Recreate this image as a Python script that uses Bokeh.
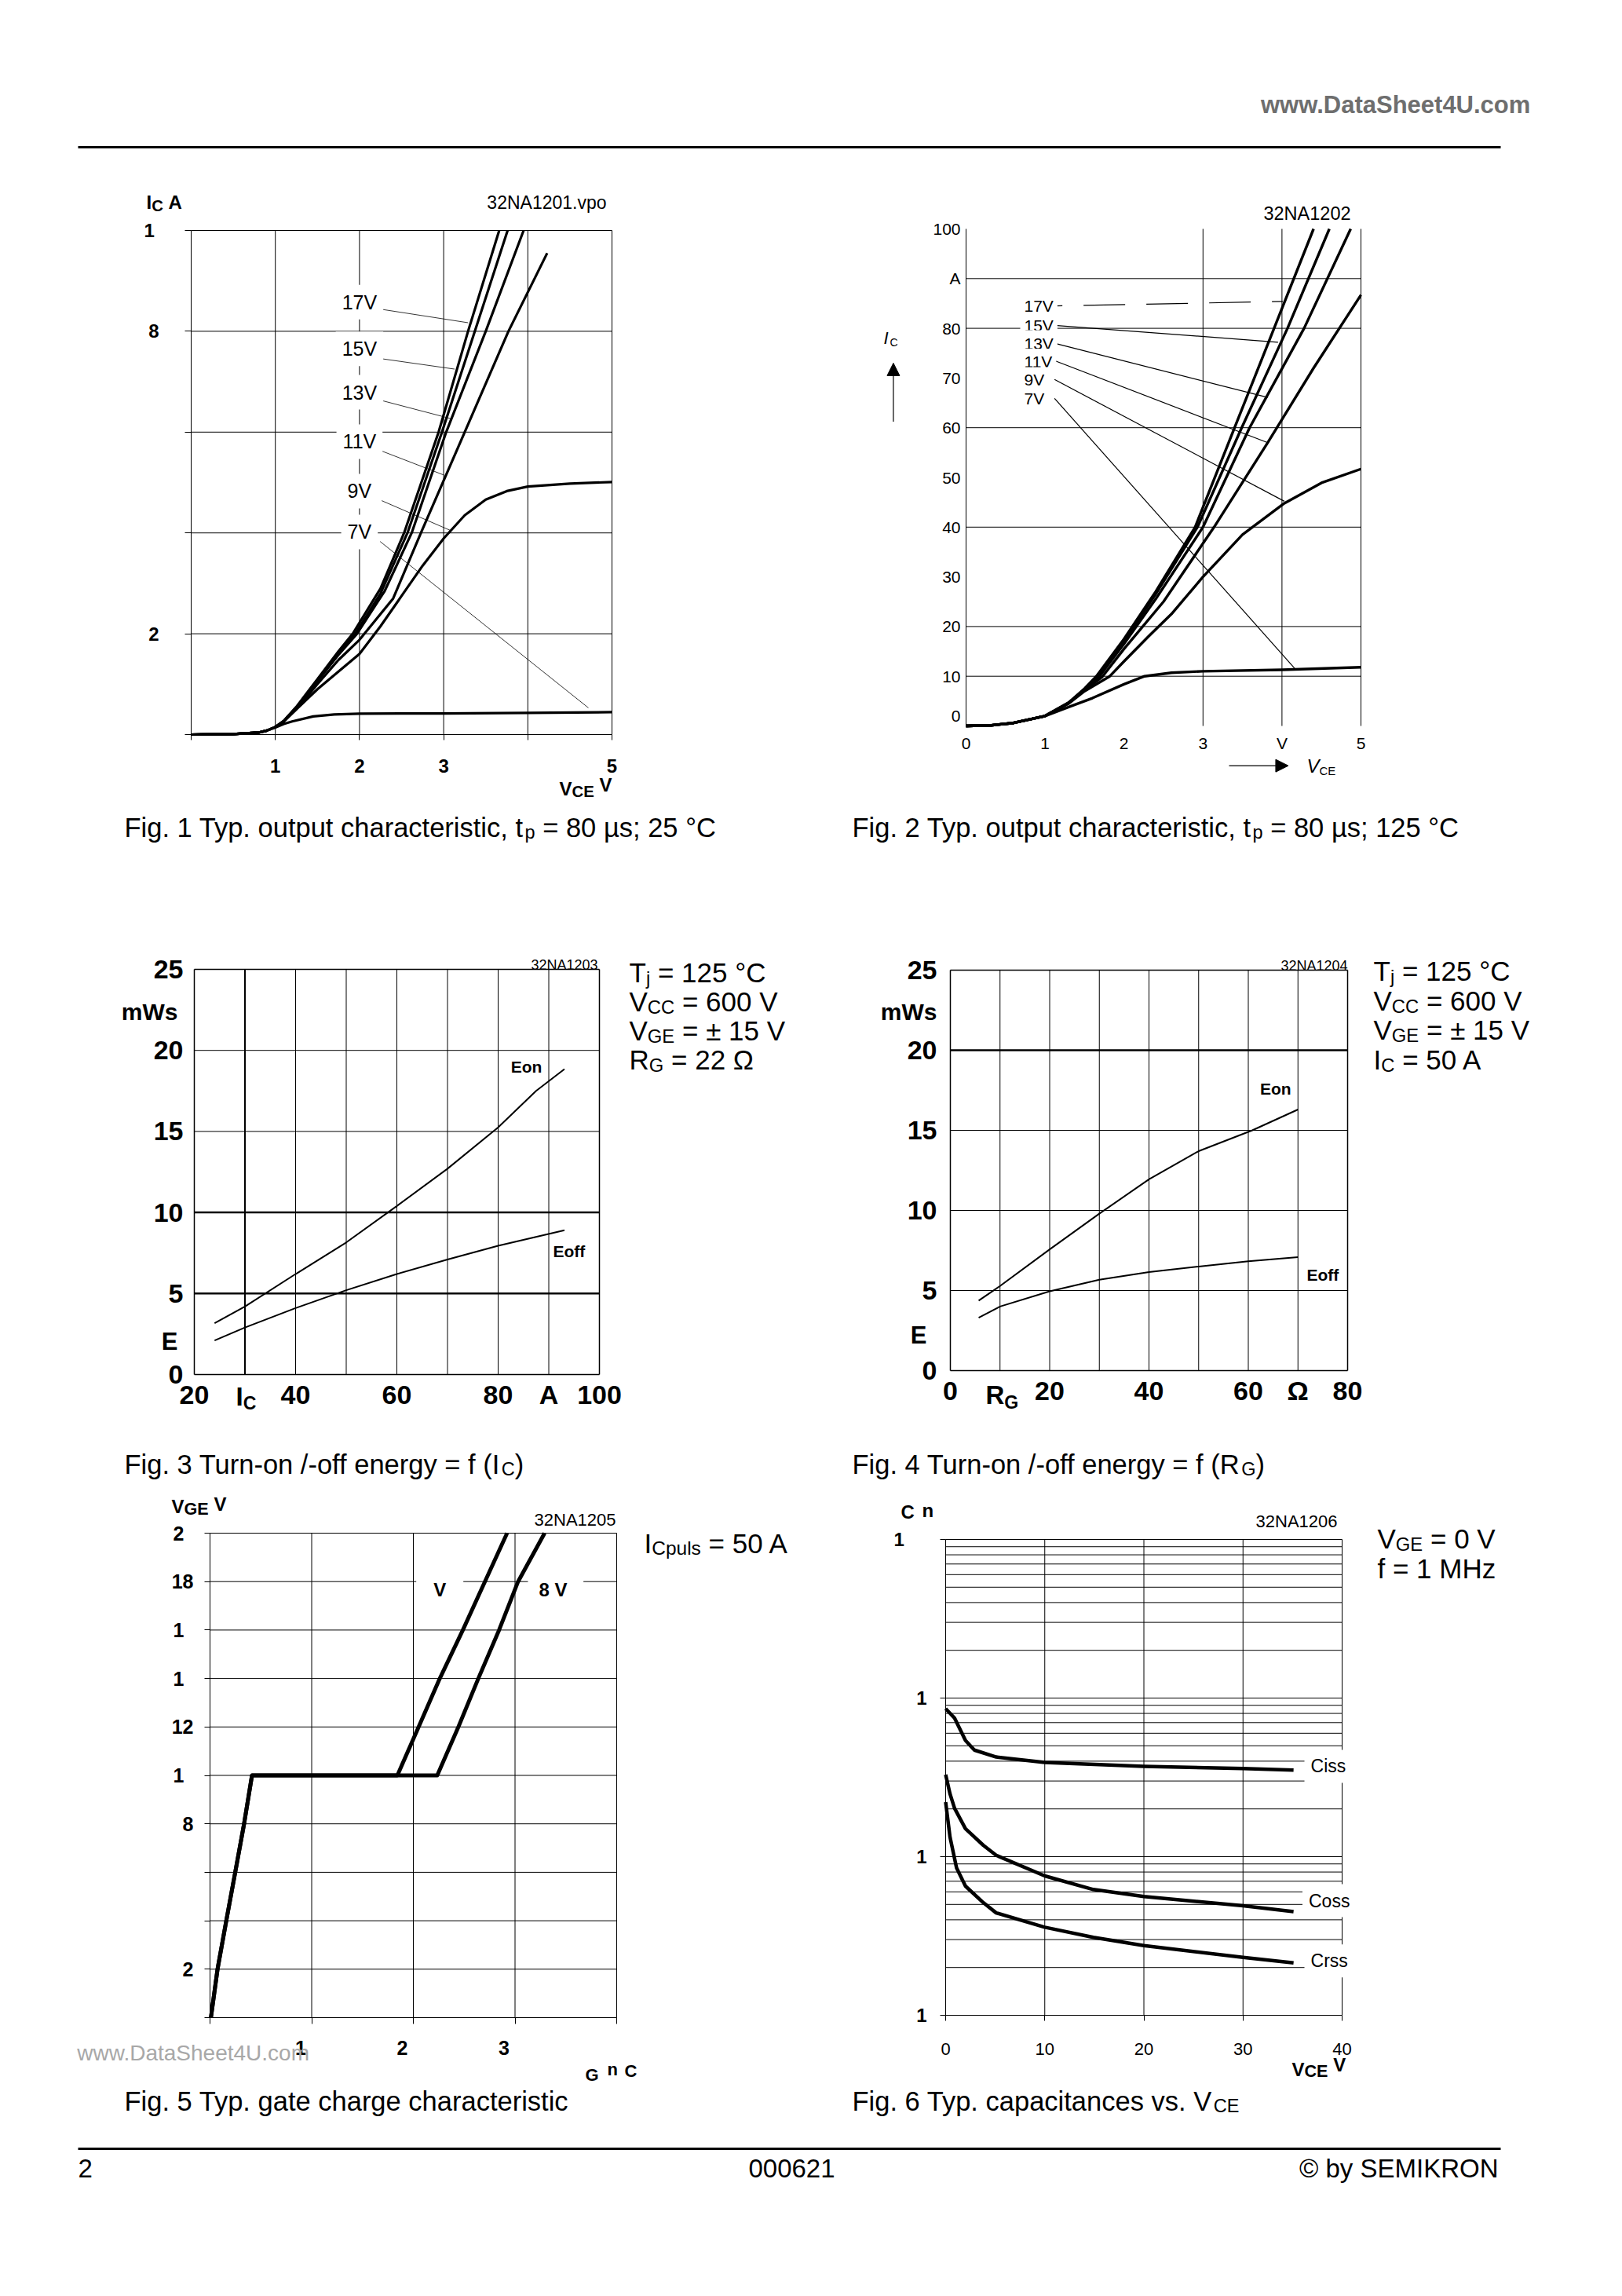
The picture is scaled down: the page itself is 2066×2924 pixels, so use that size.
import math
from bokeh.plotting import figure
from bokeh.models import (Range1d, FixedTicker, Label, BoxAnnotation, Arrow,
                          NormalHead, CustomJSTickFormatter)
from bokeh.layouts import column, row
from bokeh.embed import file_html
from bokeh.resources import INLINE

FONT = "Liberation Sans"

# ======================= DATA =======================
# Fig. 1 : output characteristic 25 °C  (V_CE [V] -> I_C [A])
f1_x_ticks = [0, 1, 2, 3, 4, 5]
f1_x_labels = ["", "1", "2", "3", "", "5"]
f1_y_ticks = [0, 20, 40, 60, 80, 100]
f1_y_labels = ["", "2", "", "", "8", ""]
f1_17v_x = [0, 0.5, 0.8, 0.9, 1.0, 1.1, 1.25, 1.4, 1.5, 1.75, 1.92, 2.25, 2.53, 2.94, 3.29, 3.66]
f1_17v_y = [0, 0.1, 0.4, 0.8, 1.5, 2.7, 5.5, 8.8, 11, 16.5, 20, 29, 40, 60, 80, 100]
f1_15v_x = [0, 0.5, 0.8, 0.9, 1.0, 1.1, 1.25, 1.4, 1.5, 1.75, 1.95, 2.25, 2.57, 2.98, 3.37, 3.76]
f1_15v_y = [0, 0.1, 0.4, 0.8, 1.5, 2.7, 5.4, 8.6, 10.8, 16.2, 20, 28, 40, 60, 80, 100]
f1_13v_x = [0, 0.5, 0.8, 0.9, 1.0, 1.1, 1.25, 1.4, 1.5, 1.75, 1.97, 2.3, 2.62, 3.03, 3.5, 3.95]
f1_13v_y = [0, 0.1, 0.4, 0.8, 1.5, 2.6, 5.3, 8.4, 10.6, 15.8, 20, 28.5, 40, 60, 80, 100]
f1_11v_x = [0, 0.5, 0.8, 0.9, 1.0, 1.1, 1.25, 1.4, 1.5, 1.75, 2.0, 2.4, 2.73, 3.25, 3.77, 4.23]
f1_11v_y = [0, 0.1, 0.4, 0.8, 1.5, 2.6, 5.1, 8.0, 10, 14.8, 18.8, 27, 40, 60, 80, 95.5]
f1_9v_x = [0, 0.5, 0.8, 0.9, 1.0, 1.1, 1.25, 1.5, 1.75, 2.0, 2.25, 2.5, 2.75, 3.0, 3.25, 3.5, 3.75, 4.0, 4.5, 5.0]
f1_9v_y = [0, 0.1, 0.4, 0.8, 1.5, 2.6, 5, 9, 12.5, 16, 21.5, 27.5, 33.5, 38.9, 43.5, 46.6, 48.3, 49.2, 49.8, 50.1]
f1_7v_x = [0, 0.5, 0.8, 0.9, 1.0, 1.1, 1.2, 1.45, 1.7, 2.0, 3.0, 4.0, 5.0]
f1_7v_y = [0, 0.1, 0.4, 0.8, 1.4, 2.1, 2.6, 3.6, 4.0, 4.15, 4.2, 4.3, 4.45]
f1_tags = ["17V", "15V", "13V", "11V", "9V", "7V"]
f1_tag_x = [2.0, 2.0, 2.0, 2.0, 2.0, 2.0]
f1_tag_y = [85.8, 76.5, 67.9, 58.1, 48.3, 40.2]
f1_lead_x0 = [2.245, 2.245, 2.256, 2.256, 2.264, 2.245]
f1_lead_y0 = [84.4, 74.6, 66.3, 56.3, 46.4, 38.3]
f1_lead_x1 = [3.29, 3.13, 3.08, 3.0, 3.08, 4.72]
f1_lead_y1 = [81.7, 72.5, 62.7, 51.5, 40.5, 5.3]

# Fig. 2 : output characteristic 125 °C
f2_x_ticks = [0, 1, 2, 3, 4, 5]
f2_x_labels = ["0", "1", "2", "3", "V", "5"]
f2_y_ticks = [0, 10, 20, 30, 40, 50, 60, 70, 80, 90, 100]
f2_y_labels = ["", "10", "20", "30", "40", "50", "60", "70", "80", "A", "100"]
f2_x_grid = [3, 4, 5]
f2_y_grid = [10, 20, 40, 60, 80, 90]
f2_17v_x = [0, 0.3, 0.6, 1.0, 1.3, 1.5, 1.65, 2.0, 2.4, 2.9, 3.4, 3.9, 4.4]
f2_17v_y = [0, 0.1, 0.6, 2.0, 4.7, 7.5, 10, 17.5, 27, 40, 60, 80, 100]
f2_15v_x = [0, 0.3, 0.6, 1.0, 1.3, 1.5, 1.66, 2.0, 2.4, 2.93, 3.49, 4.07, 4.6]
f2_15v_y = [0, 0.1, 0.6, 2.0, 4.7, 7.4, 9.8, 17, 26.5, 40, 60, 80, 100]
f2_13v_x = [0, 0.3, 0.6, 1.0, 1.3, 1.5, 1.68, 2.0, 2.4, 3.0, 3.59, 4.28, 4.87]
f2_13v_y = [0, 0.1, 0.6, 2.0, 4.6, 7.3, 9.8, 16.5, 25.5, 40, 60, 80, 100]
f2_11v_x = [0, 0.3, 0.6, 1.0, 1.3, 1.5, 1.72, 2.0, 2.5, 3.14, 3.82, 4.4, 5.0]
f2_11v_y = [0, 0.1, 0.6, 2.0, 4.6, 7.2, 9.8, 15.5, 25, 40, 57, 72, 86.7]
f2_9v_x = [0, 0.3, 0.6, 1.0, 1.3, 1.5, 1.82, 2.0, 2.31, 2.6, 3.0, 3.5, 4.03, 4.5, 5.0]
f2_9v_y = [0, 0.1, 0.6, 2.0, 4.5, 7.0, 10, 13, 18, 22.5, 30, 38.5, 44.8, 48.9, 51.7]
f2_7v_x = [0, 0.3, 0.6, 1.0, 1.3, 1.6, 2.0, 2.26, 2.6, 3.0, 4.0, 5.0]
f2_7v_y = [0, 0.1, 0.6, 2.0, 3.8, 5.6, 8.4, 10, 10.7, 11, 11.3, 11.8]
f2_tags = ["17V", "15V", "13V", "11V", "9V", "7V"]
f2_tag_x = [0.686, 0.686, 0.686, 0.686, 0.686, 0.686]
f2_tag_y = [84.5, 80.6, 77.0, 73.3, 69.6, 65.9]
f2_lead_x0 = [1.12, 1.12, 1.12, 1.12, 1.12, 1.12]
f2_lead_y0 = [84.5, 80.6, 77.0, 73.5, 69.7, 65.9]
f2_lead_x1 = [4.01, 3.95, 3.82, 3.82, 4.03, 4.16]
f2_lead_y1 = [85.4, 77.2, 66.1, 57.0, 45.2, 11.6]

# Fig. 3 : E = f(I_C)
f3_x_ticks = [20, 30, 40, 50, 60, 70, 80, 90, 100]
f3_x_labels = ["20", "", "40", "", "60", "", "80", "A", "100"]
f3_y_ticks = [0, 5, 10, 15, 20, 25]
f3_y_labels = ["0", "5", "10", "15", "20", "25"]
f3_y_grid = [5, 10, 15, 20, 25]
f3_eon_x = [24, 30, 40, 50, 60, 70, 80, 87.5, 93.1]
f3_eon_y = [3.17, 4.2, 6.2, 8.15, 10.4, 12.7, 15.25, 17.5, 18.85]
f3_eoff_x = [24, 30, 40, 50, 60, 70, 80, 93.1]
f3_eoff_y = [2.1, 2.9, 4.1, 5.2, 6.2, 7.1, 7.95, 8.9]

# Fig. 4 : E = f(R_G)
f4_x_ticks = [0, 10, 20, 30, 40, 50, 60, 70, 80]
f4_x_labels = ["0", "", "20", "", "40", "", "60", "Ω", "80"]
f4_y_ticks = [0, 5, 10, 15, 20, 25]
f4_y_labels = ["0", "5", "10", "15", "20", "25"]
f4_y_grid = [5, 10, 15, 20, 25]
f4_eon_x = [5.7, 10, 20, 30, 40, 50, 60.8, 70]
f4_eon_y = [4.37, 5.28, 7.57, 9.8, 11.94, 13.7, 15.0, 16.3]
f4_eoff_x = [5.7, 10, 20, 30, 40, 50, 60, 70]
f4_eoff_y = [3.3, 4.0, 4.95, 5.67, 6.15, 6.5, 6.83, 7.08]

# Fig. 5 : gate charge (Q_G [nC] -> V_GE [V])
f5_x_ticks = [0, 100, 200, 300, 400]
f5_x_labels = ["", "1", "2", "3", ""]
f5_y_ticks = [0, 2, 4, 6, 8, 10, 12, 14, 16, 18, 20]
f5_y_labels = ["", "2", "", "", "8", "", "12", "", "", "18", ""]
f5_y_cut_ticks = [10, 14, 16, 20]          # labels printed with lost digits
f5_y_cut_labels = ["1", "1", "1", "2"]
f5_a_q = [0.9, 7.4, 16, 24.8, 33.5, 41.3, 184.3, 205.2, 226, 248.7, 270.4, 292.2]
f5_a_v = [0, 2, 4, 6, 8, 10, 10, 12, 14, 16, 18, 20]
f5_b_q = [0.9, 7.4, 16, 24.8, 33.5, 41.3, 223.5, 244.3, 263.9, 284.3, 303, 329.1]
f5_b_v = [0, 2, 4, 6, 8, 10, 10, 12, 14, 16, 18, 20]

# Fig. 6 : capacitances (V_CE [V] -> C [nF])
f6_x_ticks = [0, 10, 20, 30, 40]
f6_y_ticks = [0.1, 1, 10, 100]
f6_ciss_x = [0, 0.9, 2, 2.9, 5.1, 10, 20, 30, 35.1]
f6_ciss_y = [8.58, 7.48, 5.4, 4.7, 4.25, 3.93, 3.71, 3.6, 3.51]
f6_coss_x = [0, 0.44, 0.9, 2, 3.8, 5.1, 10, 14.9, 20, 30, 35.1]
f6_coss_y = [3.29, 2.49, 2.02, 1.5, 1.18, 1.02, 0.756, 0.621, 0.561, 0.49, 0.45]
f6_crss_x = [0, 0.44, 1.1, 2, 3.8, 5.1, 10, 14.9, 20, 30, 35.1]
f6_crss_y = [2.21, 1.33, 0.85, 0.652, 0.513, 0.442, 0.359, 0.31, 0.275, 0.232, 0.214]

# ======================= TEXT HELPERS =======================
W_REG = {' ': 278, '!': 278, '(': 333, ')': 333, ',': 278, '-': 333, '.': 278, '/': 278,
         ':': 278, ';': 278, '=': 584, '+': 584, '°': 400, 'µ': 556, '±': 584, 'Ω': 768, '©': 737}
W_REG.update({d: 556 for d in "0123456789"})
W_REG.update(dict(zip("ABCDEFGHIJKLMNOPQRSTUVWXYZ",
                      [667, 667, 722, 722, 667, 611, 778, 722, 278, 500, 667, 556, 833, 722, 778, 667,
                       778, 722, 667, 611, 722, 667, 944, 667, 667, 611])))
W_REG.update(dict(zip("abcdefghijklmnopqrstuvwxyz",
                      [556, 556, 500, 556, 556, 278, 556, 556, 222, 222, 500, 222, 833, 556, 556, 556,
                       556, 333, 500, 278, 556, 500, 722, 500, 500, 500])))
W_BOLD = {' ': 278, '.': 278, '=': 584, '°': 400, 'Ω': 768, '(': 333, ')': 333}
W_BOLD.update({d: 556 for d in "0123456789"})
W_BOLD.update(dict(zip("ABCDEFGHIJKLMNOPQRSTUVWXYZ",
                       [722, 722, 722, 722, 667, 611, 778, 722, 278, 556, 722, 611, 833, 722, 778, 667,
                        778, 722, 667, 611, 722, 667, 944, 667, 667, 611])))
W_BOLD.update(dict(zip("abcdefghijklmnopqrstuvwxyz",
                       [556, 611, 556, 611, 556, 333, 611, 611, 278, 278, 556, 278, 889, 611, 611, 611,
                        611, 389, 556, 333, 611, 556, 778, 556, 556, 500])))


def put(p, F, px, py, parts, size, bold=False, italic=False, align="left", color="black"):
    """Place (possibly sub-scripted) text; px/py are page pixels, py = baseline."""
    tbl = W_BOLD if bold else W_REG

    def tw(s, sz):
        return sum(tbl.get(c, 556) for c in s) * sz / 1000.0

    ws = [tw(t, size * sc) for (t, sc, dy) in parts]
    total = sum(ws)
    x = px - {"left": 0, "center": total / 2, "right": total}[align]
    style = "bold italic" if (bold and italic) else "bold" if bold else "italic" if italic else "normal"
    for (t, sc, dy), w in zip(parts, ws):
        s = t.lstrip(" ")
        off = tw(t[:len(t) - len(s)], size * sc)
        s = s.rstrip(" ")
        if s:
            p.add_layout(Label(x=x + off - F[0], y=F[1] - (py + dy), x_units="screen", y_units="screen",
                               text=s, text_font=FONT, text_font_size=f"{size * sc:.1f}px",
                               text_font_style=style, text_color=color, text_align="left",
                               text_baseline="alphabetic"))
        x += w


def tag(p, x, y, text, size, bold=False, align="center", pad=6, baseline="middle", x_offset=0, y_offset=0,
        bg=True):
    p.add_layout(Label(x=x, y=y, text=text, text_font=FONT, text_font_size=f"{size}px",
                       text_font_style="bold" if bold else "normal", text_align=align,
                       text_color="black", text_baseline=baseline,
                       background_fill_color="white" if bg else None,
                       background_fill_alpha=1.0, padding=pad, x_offset=x_offset, y_offset=y_offset))


def make_chart(cell, frame, xlim, ylim, ylog=False):
    """Figure whose canvas is the whole cell; the plot box sits at `frame` (page px)."""
    cx, cy, cw, ch = cell
    L, T, R, B = frame
    x0, x1 = xlim
    y0, y1 = ylim
    sx = (R - L) / (x1 - x0)
    xr = Range1d(x0 - (L - cx) / sx, x1 + (cx + cw - R) / sx)
    if ylog:
        l0, l1 = math.log10(y0), math.log10(y1)
        sy = (B - T) / (l1 - l0)
        yr = Range1d(10 ** (l0 - (cy + ch - B) / sy), 10 ** (l1 + (T - cy) / sy))
    else:
        sy = (B - T) / (y1 - y0)
        yr = Range1d(y0 - (cy + ch - B) / sy, y1 + (T - cy) / sy)
    p = figure(width=cw, height=ch, x_range=xr, y_range=yr, y_axis_type="log" if ylog else "linear",
               output_backend="svg", toolbar_location=None,
               min_border_left=0, min_border_right=0, min_border_top=0, min_border_bottom=0)
    p.background_fill_color = "white"
    p.border_fill_color = "white"
    p.outline_line_color = None
    p.grid.visible = False
    xa, ya = p.xaxis[0], p.yaxis[0]
    xa.fixed_location = y0
    xa.bounds = (x0, x1)
    ya.fixed_location = x0
    ya.bounds = (y0, y1)
    for ax in (xa, ya):
        ax.axis_line_color = "black"
        ax.major_tick_line_color = "black"
        ax.major_tick_in = 0
        ax.minor_tick_in = 0
        ax.minor_tick_out = 0
        ax.major_label_text_font = FONT
        ax.major_label_text_color = "black"
    return p, (cx, cy + ch)


def axis_style(ax, ticks, labels, size, bold, tick_out, standoff):
    ax.ticker = FixedTicker(ticks=ticks)
    ax.major_label_overrides = dict(zip(ticks, labels))
    ax.major_label_text_font_size = f"{size}px"
    ax.major_label_text_font_style = "bold" if bold else "normal"
    ax.major_tick_out = tick_out
    ax.major_label_standoff = standoff


def vgrid(p, xs, ylim, width=1.0):
    n = len(xs)
    p.segment(x0=xs, y0=[ylim[0]] * n, x1=xs, y1=[ylim[1]] * n, line_color="black", line_width=width)


def hgrid(p, ys, xlim, width=1.0):
    n = len(ys)
    p.segment(x0=[xlim[0]] * n, y0=ys, x1=[xlim[1]] * n, y1=ys, line_color="black", line_width=width)


# ======================= HEADER =======================
hdr = figure(width=2058, height=230, x_range=Range1d(0, 2058), y_range=Range1d(230, 0),
             output_backend="svg", toolbar_location=None,
             min_border_left=0, min_border_right=0, min_border_top=0, min_border_bottom=0)
hdr.axis.visible = False
hdr.grid.visible = False
hdr.outline_line_color = None
hdr.add_layout(BoxAnnotation(left=99, right=1911, top=185.5, bottom=188.5, fill_color="black",
                             fill_alpha=1, line_color=None))
put(hdr, (0, 230), 1950, 133, [("www.DataSheet4U.com", 1, 0)], 31, bold=True, align="right", color="#6e6e6e")

# ======================= FIG 1 =======================
X1, Y1 = (0, 5), (0, 100)
p1, F1 = make_chart((0, 230, 1040, 890), (243, 293, 779, 935), X1, Y1)
axis_style(p1.xaxis[0], f1_x_ticks, f1_x_labels, 24, True, 7, 24)
axis_style(p1.yaxis[0], f1_y_ticks, f1_y_labels, 24, True, 8, 33)
vgrid(p1, f1_x_ticks[1:], Y1)
hgrid(p1, f1_y_ticks[1:], X1)
for xs, ys in [(f1_17v_x, f1_17v_y), (f1_15v_x, f1_15v_y), (f1_13v_x, f1_13v_y),
               (f1_11v_x, f1_11v_y), (f1_9v_x, f1_9v_y), (f1_7v_x, f1_7v_y)]:
    p1.line(xs, ys, line_color="black", line_width=3.2, line_join="round")
p1.segment(f1_lead_x0, f1_lead_y0, f1_lead_x1, f1_lead_y1, line_color="black", line_width=0.8)
for t, x, y in zip(f1_tags, f1_tag_x, f1_tag_y):
    tag(p1, x, y, t, 25, pad=8)
tag(p1, 0, 100, "1", 24, bold=True, align="left", pad=0, x_offset=-60, bg=False)
put(p1, F1, 186, 257, [("I", 1, 0), ("C", 0.85, 4), (" A", 1, 0)], 24, bold=True)
put(p1, F1, 772, 257, [("32NA1201.vpo", 1, 0)], 23, align="right")
put(p1, F1, 712, 1004, [("V", 1, 0), ("CE", 0.85, 3), (" V", 1, -5)], 24, bold=True)
put(p1, F1, 158, 1053, [("Fig. 1 Typ. output characteristic, t", 1, 0), ("p", 0.68, 6),
                        (" = 80 µs; 25 °C", 1, 0)], 34.5)

# ======================= FIG 2 =======================
X2, Y2 = (0, 5), (0, 100)
p2, F2 = make_chart((1040, 230, 1018, 890), (1230, 291, 1733, 924), X2, Y2)
axis_style(p2.xaxis[0], f2_x_ticks, f2_x_labels, 21, False, 0, 10)
axis_style(p2.yaxis[0], f2_y_ticks, f2_y_labels, 21, False, 0, 7)
p2.xaxis.axis_line_color = None
vgrid(p2, f2_x_grid, Y2)
hgrid(p2, f2_y_grid, X2)
for xs, ys in [(f2_17v_x, f2_17v_y), (f2_15v_x, f2_15v_y), (f2_13v_x, f2_13v_y),
               (f2_11v_x, f2_11v_y), (f2_9v_x, f2_9v_y), (f2_7v_x, f2_7v_y)]:
    p2.line(xs, ys, line_color="black", line_width=3.4, line_join="round")
p2.segment(f2_lead_x0[1:], f2_lead_y0[1:], f2_lead_x1[1:], f2_lead_y1[1:], line_color="black", line_width=1.2)
p2.segment(f2_lead_x0[:1], f2_lead_y0[:1], f2_lead_x1[:1], f2_lead_y1[:1], line_color="black",
           line_width=1.2, line_dash="53 27", line_dash_offset=43)
for t, x, y in zip(f2_tags, f2_tag_x, f2_tag_y):
    tag(p2, x, y, t, 21, align="left", pad=5)
tag(p2, 0, 0, "0", 21, align="right", pad=0, x_offset=-7, y_offset=13, bg=False)
put(p2, F2, 1720, 271, [("32NA1202", 1, 0)], 23.5, align="right")
put(p2, F2, 1125, 430, [("I", 1, 0)], 22, italic=True)
put(p2, F2, 1133, 435, [("C", 1, 0)], 14)
put(p2, F2, 1664, 975, [("V", 1, 0)], 24, italic=True)
put(p2, F2, 1680, 981, [("CE", 1, 0)], 15)
p2.add_layout(Arrow(end=NormalHead(size=16, fill_color="black", line_color="black"),
                    x_start=-0.92, y_start=61.2, x_end=-0.92, y_end=73.0,
                    line_color="black", line_width=1.2))
p2.add_layout(Arrow(end=NormalHead(size=16, fill_color="black", line_color="black"),
                    x_start=3.33, y_start=-8.0, x_end=4.08, y_end=-8.0,
                    line_color="black", line_width=1.2))
put(p2, F2, 1085, 1053, [("Fig. 2 Typ. output characteristic, t", 1, 0), ("p", 0.68, 6),
                         (" = 80 µs; 125 °C", 1, 0)], 34.5)

# ======================= FIG 3 =======================
X3, Y3 = (20, 100), (0, 25)
p3, F3 = make_chart((0, 1120, 1040, 780), (247, 1234, 763, 1750), X3, Y3)
axis_style(p3.xaxis[0], f3_x_ticks, f3_x_labels, 34, True, 0, 6)
axis_style(p3.yaxis[0], f3_y_ticks, f3_y_labels, 34, True, 0, 14)
p3.xaxis.axis_line_width = 1.5
p3.yaxis.axis_line_width = 1.5
vgrid(p3, f3_x_ticks[1:-1], Y3)
hgrid(p3, f3_y_grid[:-1], X3)
vgrid(p3, f3_x_ticks[-1:], Y3, 1.5)
hgrid(p3, f3_y_grid[-1:], X3, 1.5)
hgrid(p3, f3_y_grid[0:2], X3, 2.5)
vgrid(p3, f3_x_ticks[1:2], Y3, 2)
p3.line(f3_eon_x, f3_eon_y, line_color="black", line_width=2)
p3.line(f3_eoff_x, f3_eoff_y, line_color="black", line_width=2)
tag(p3, 85.6, 19.0, "Eon", 21, bold=True, pad=2)
tag(p3, 94.0, 7.6, "Eoff", 21, bold=True, pad=2)
put(p3, F3, 761, 1228, [("32NA1203", 1, 0)], 18, align="right")
put(p3, F3, 226, 1288, [("mWs", 1, 0)], 30, bold=True, align="right")
put(p3, F3, 226, 1708, [("E", 1, 0)], 31, bold=True, align="right")
put(p3, F3, 300, 1778, [("I", 1, 0), ("C", 0.7, 8)], 33, bold=True)
for i, (a, b, c) in enumerate([("T", "j", " = 125 °C"), ("V", "CC", " = 600 V"),
                               ("V", "GE", " = ± 15 V"), ("R", "G", " = 22 Ω")]):
    put(p3, F3, 801, 1238 + 37 * i, [(a, 1, 0), (b, 0.68, 7), (c, 1, 0)], 35)
put(p3, F3, 158, 1864, [("Fig. 3 Turn-on /-off energy = f (I", 1, 0), ("C", 0.68, 6), (")", 1, 0)], 34.5)

# ======================= FIG 4 =======================
X4, Y4 = (0, 80), (0, 25)
p4, F4 = make_chart((1040, 1120, 1018, 780), (1210, 1235, 1716, 1745), X4, Y4)
axis_style(p4.xaxis[0], f4_x_ticks, f4_x_labels, 34, True, 0, 6)
axis_style(p4.yaxis[0], f4_y_ticks, f4_y_labels, 34, True, 0, 17)
p4.xaxis.axis_line_width = 1.5
p4.yaxis.axis_line_width = 1.5
vgrid(p4, f4_x_ticks[1:-1], Y4)
hgrid(p4, f4_y_grid[:-1], X4)
vgrid(p4, f4_x_ticks[-1:], Y4, 1.5)
hgrid(p4, f4_y_grid[-1:], X4, 1.5)
hgrid(p4, f4_y_grid[3:4], X4, 2.5)
p4.line(f4_eon_x, f4_eon_y, line_color="black", line_width=2)
p4.line(f4_eoff_x, f4_eoff_y, line_color="black", line_width=2)
tag(p4, 65.5, 17.6, "Eon", 21, bold=True, pad=2)
tag(p4, 75.0, 6.0, "Eoff", 21, bold=True, pad=2)
put(p4, F4, 1716, 1229, [("32NA1204", 1, 0)], 18, align="right")
put(p4, F4, 1193, 1288, [("mWs", 1, 0)], 30, bold=True, align="right")
put(p4, F4, 1180, 1700, [("E", 1, 0)], 31, bold=True, align="right")
put(p4, F4, 1255, 1776, [("R", 1, 0), ("G", 0.7, 9)], 33, bold=True)
for i, (a, b, c) in enumerate([("T", "j", " = 125 °C"), ("V", "CC", " = 600 V"),
                               ("V", "GE", " = ± 15 V"), ("I", "C", " = 50 A")]):
    put(p4, F4, 1749, 1236 + 37.5 * i, [(a, 1, 0), (b, 0.68, 7), (c, 1, 0)], 35)
put(p4, F4, 1085, 1864, [("Fig. 4 Turn-on /-off energy = f (R", 1, 0), ("G", 0.68, 6), (")", 1, 0)], 34.5)

# ======================= FIG 5 =======================
X5, Y5 = (0, 400), (0, 20)
p5, F5 = make_chart((0, 1900, 1040, 820), (267, 1952, 785, 2569), X5, Y5)
axis_style(p5.xaxis[0], f5_x_ticks, ["", "", "", "", ""], 25, True, 8, 24)
axis_style(p5.yaxis[0], f5_y_ticks, f5_y_labels, 25, True, 7, 14)
vgrid(p5, f5_x_ticks[1:], Y5)
hgrid(p5, f5_y_ticks[1:], X5)
p5.line(f5_a_q, f5_a_v, line_color="black", line_width=5, line_join="round")
p5.line(f5_b_q, f5_b_v, line_color="black", line_width=5, line_join="round")
# tick texts printed off-centre (their lost digits leave them shifted)
for q, t in zip(f5_x_ticks, f5_x_labels):
    if t:
        tag(p5, q, 0, t, 25, bold=True, align="center", pad=0, baseline="middle",
            x_offset=-14, y_offset=-38, bg=False)
for v, t in zip(f5_y_cut_ticks, f5_y_cut_labels):
    tag(p5, 0, v, t, 25, bold=True, align="left", pad=0, baseline="middle", x_offset=-47, bg=False)
tag(p5, 226, 17.67, "V", 24, bold=True, pad=22)
tag(p5, 340, 17.67, "8  V", 24, bold=True, pad=14)
put(p5, F5, 784, 1935, [("32NA1205", 1, 0)], 22, align="right")
put(p5, F5, 218, 1918, [("V", 1, 0), ("GE", 0.9, 3), (" V", 1, -3)], 24, bold=True)
put(p5, F5, 820, 1965, [("I", 1, 0), ("Cpuls", 0.7, 6), (" = 50 A", 1, 0)], 35)
put(p5, F5, 395, 2614, [("www.DataSheet4U.com", 1, 0)], 28, align="right", color="#a8a8a8")
put(p5, F5, 745, 2642, [("G", 1, 0)], 22, bold=True)
put(p5, F5, 773, 2635, [("n", 1, 0)], 22, bold=True)
put(p5, F5, 795, 2637, [("C", 1, 0)], 22, bold=True)
put(p5, F5, 158, 2675, [("Fig. 5 Typ. gate charge characteristic", 1, 0)], 34.5)

# ======================= FIG 6 =======================
X6, Y6 = (0, 40), (0.1, 100)
p6, F6 = make_chart((1040, 1900, 1018, 820), (1204, 1960, 1709, 2566), X6, Y6, ylog=True)
axis_style(p6.xaxis[0], f6_x_ticks, [str(v) for v in f6_x_ticks], 22, False, 7, 28)
p6.yaxis[0].ticker = FixedTicker(ticks=f6_y_ticks)
p6.yaxis[0].formatter = CustomJSTickFormatter(code="return tick > 50 ? '' : '1';")
p6.yaxis[0].major_label_text_font_size = "24px"
p6.yaxis[0].major_label_text_font_style = "bold"
p6.yaxis[0].major_tick_out = 7
p6.yaxis[0].major_label_standoff = 17
f6_minor = [k * d for d in f6_y_ticks[:-1] for k in range(2, 10)]
vgrid(p6, f6_x_ticks[1:], Y6)
hgrid(p6, f6_y_ticks[1:] + f6_minor, X6)
tag(p6, 0, 100, "1", 24, bold=True, align="left", pad=0, x_offset=-66, bg=False)
p6.line(f6_ciss_x, f6_ciss_y, line_color="black", line_width=4.5, line_join="round")
p6.line(f6_coss_x, f6_coss_y, line_color="black", line_width=4.5, line_join="round")
p6.line(f6_crss_x, f6_crss_y, line_color="black", line_width=4.5, line_join="round")
tag(p6, 36.2, 3.71, "Ciss", 23, align="left", pad=8)
tag(p6, 36.0, 0.528, "Coss", 23, align="left", pad=8)
tag(p6, 36.2, 0.22, "Crss", 23, align="left", pad=8)
put(p6, F6, 1147, 1925, [("C", 1, 0)], 24, bold=True)
put(p6, F6, 1174, 1923, [("n", 1, 0)], 24, bold=True)
put(p6, F6, 1703, 1937, [("32NA1206", 1, 0)], 22, align="right")
put(p6, F6, 1754, 1959, [("V", 1, 0), ("GE", 0.68, 7), (" = 0 V", 1, 0)], 35)
put(p6, F6, 1754, 1997, [("f = 1 MHz", 1, 0)], 35)
put(p6, F6, 1645, 2635, [("V", 1, 0), ("CE", 0.9, 2), (" V", 1, -6)], 24, bold=True)
put(p6, F6, 1085, 2675, [("Fig. 6 Typ. capacitances vs. V", 1, 0), ("CE", 0.68, 6)], 34.5)

# ======================= FOOTER =======================
ftr = figure(width=2058, height=80, x_range=Range1d(0, 2058), y_range=Range1d(2800, 2720),
             output_backend="svg", toolbar_location=None,
             min_border_left=0, min_border_right=0, min_border_top=0, min_border_bottom=0)
ftr.axis.visible = False
ftr.grid.visible = False
ftr.outline_line_color = None
ftr.add_layout(BoxAnnotation(left=99, right=1911, top=2734.5, bottom=2737.5, fill_color="black",
                             fill_alpha=1, line_color=None))
put(ftr, (0, 2800), 99, 2761, [("2", 1, 0)], 33)
put(ftr, (0, 2800), 1008, 2761, [("000621", 1, 0)], 33, align="center")
put(ftr, (0, 2800), 1908, 2761, [("© by SEMIKRON", 1, 0)], 33, align="right")

page = column(hdr, row(p1, p2), row(p3, p4), row(p5, p6), ftr)
open("out.html", "w").write(file_html(page, INLINE))
